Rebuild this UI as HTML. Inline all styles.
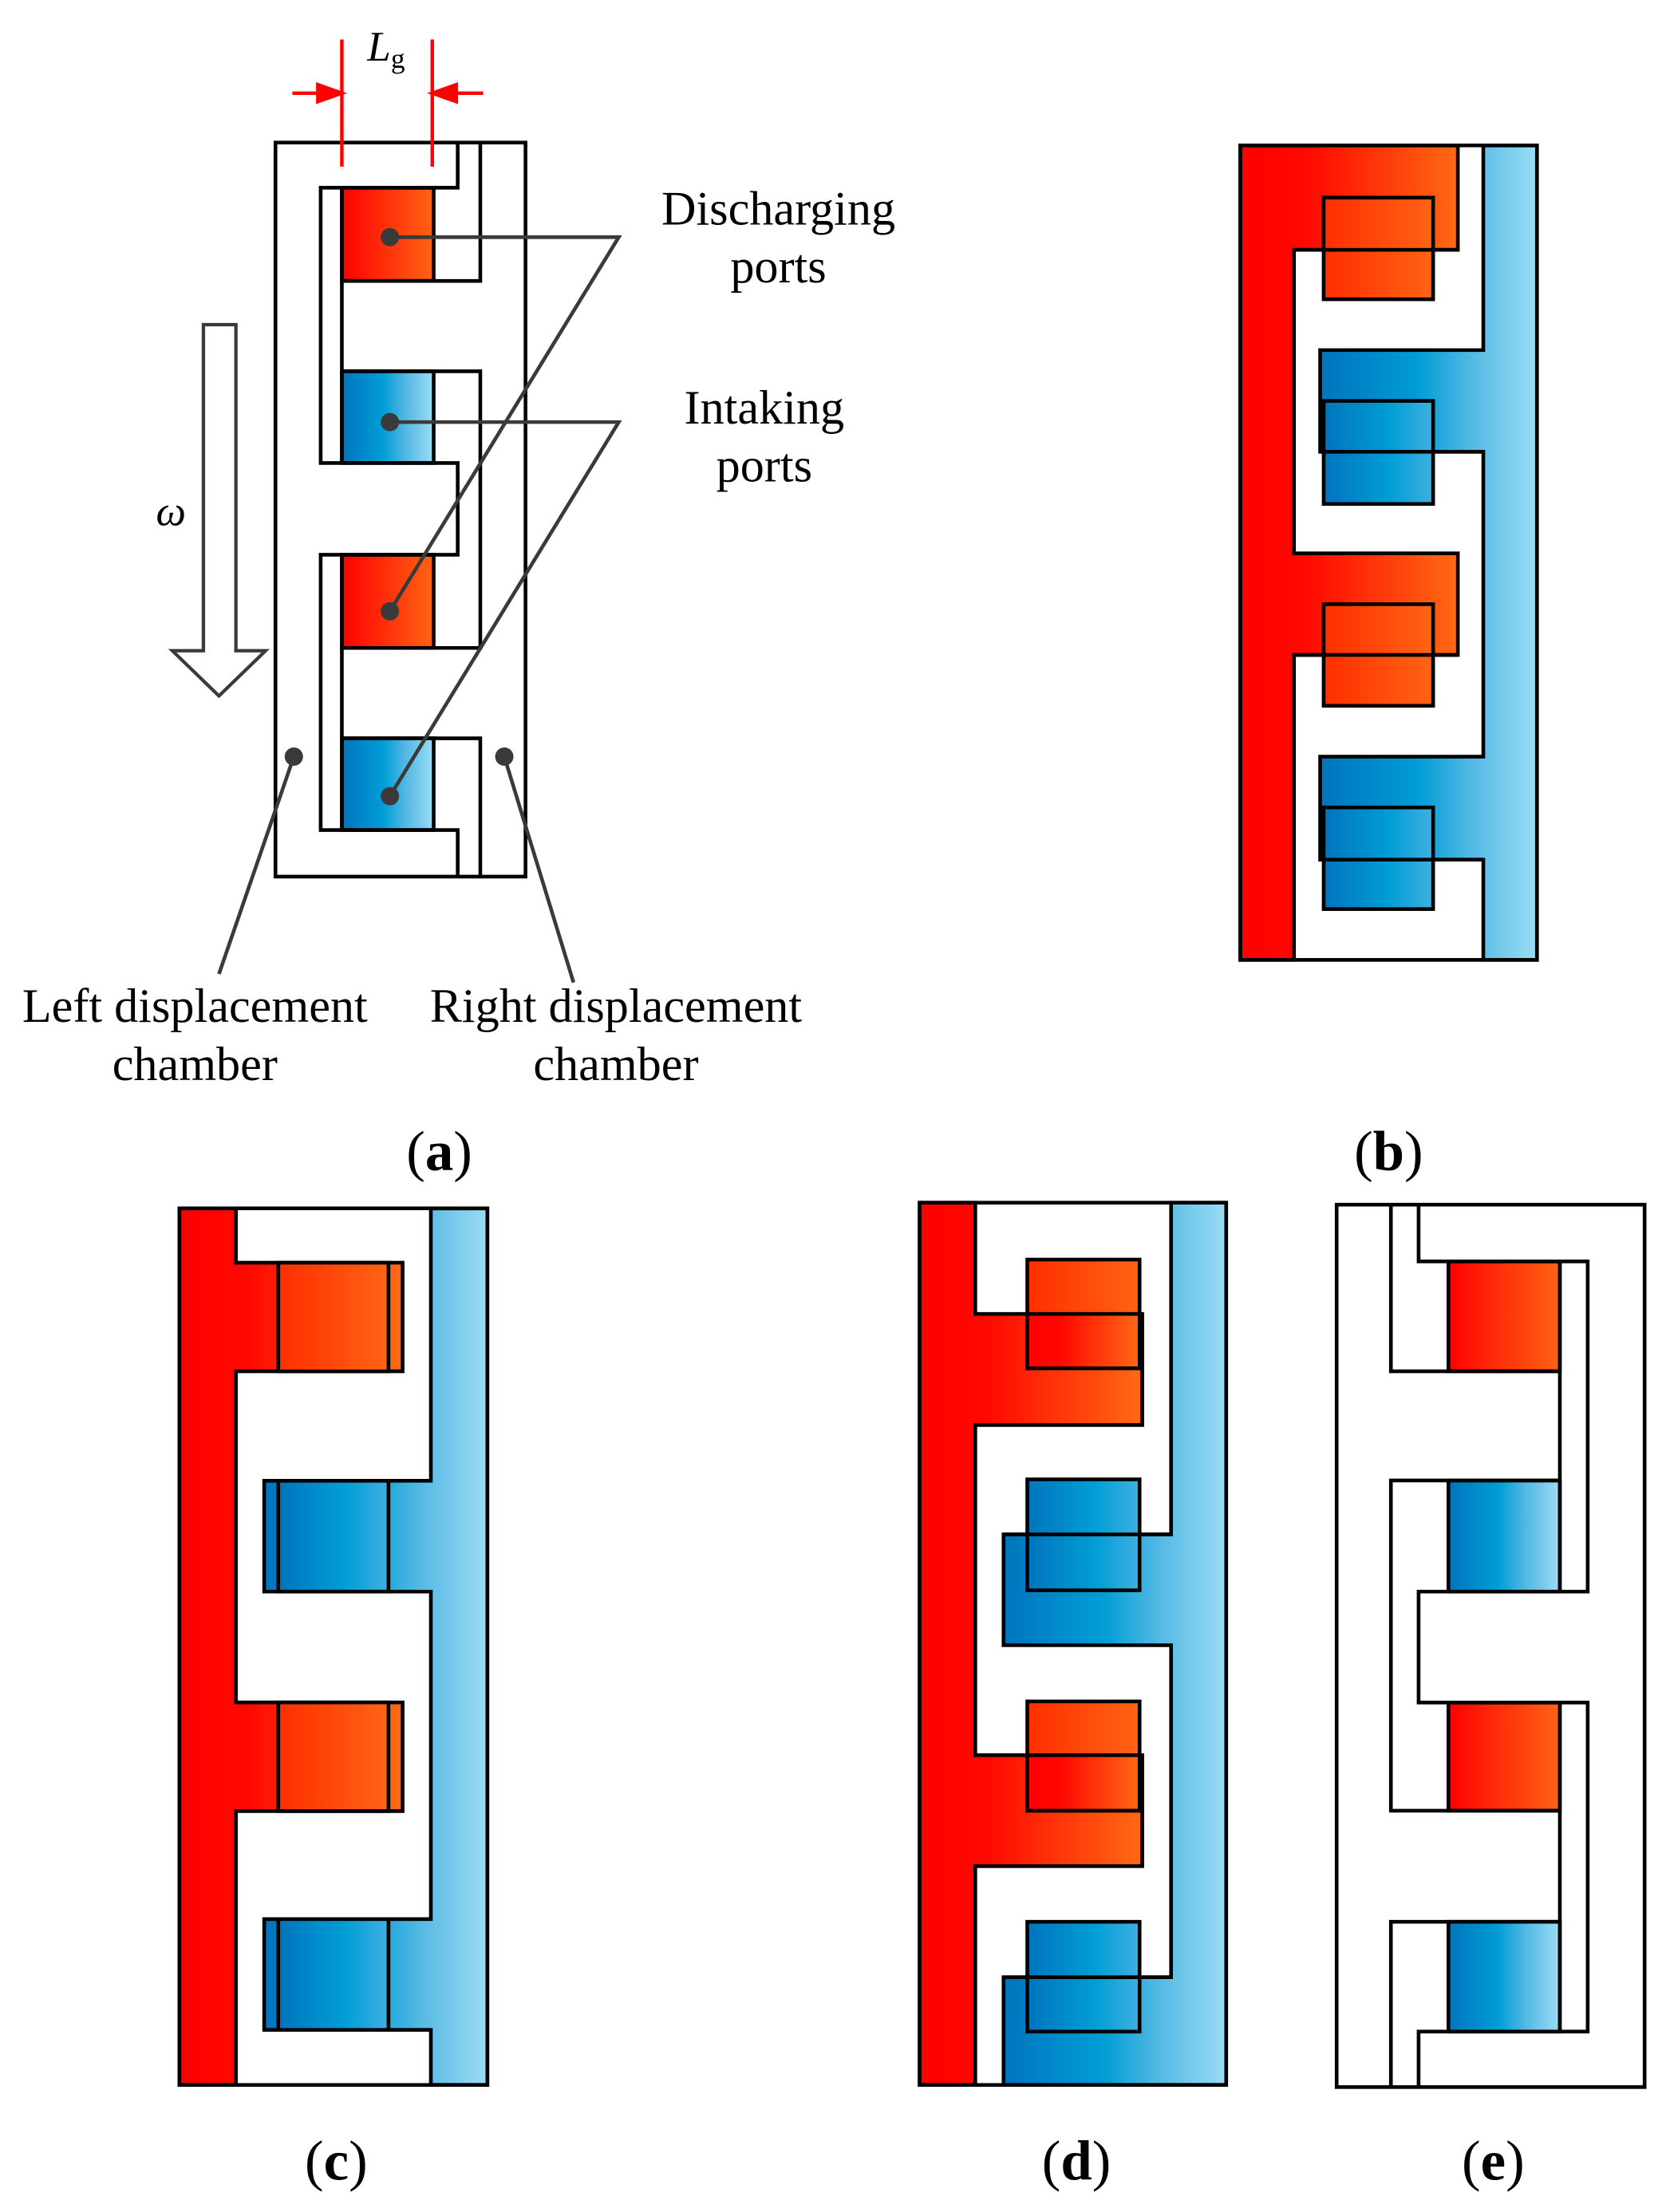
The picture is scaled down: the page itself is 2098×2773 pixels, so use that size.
<!DOCTYPE html>
<html><head><meta charset="utf-8"><style>html,body{margin:0;padding:0;background:#fff}svg{display:block}</style></head>
<body>
<svg xmlns="http://www.w3.org/2000/svg" width="2098" height="2773" viewBox="0 0 1185 1567" preserveAspectRatio="none" font-family="Liberation Serif, serif">
<defs>
<linearGradient id="rg" x1="0" y1="0" x2="1" y2="0"><stop offset="0" stop-color="#ff0000"/><stop offset="1" stop-color="#ff6414"/></linearGradient>
<linearGradient id="rg2" x1="0" y1="0" x2="1" y2="0"><stop offset="0" stop-color="#ff0000"/><stop offset="0.3" stop-color="#ff0800"/><stop offset="1" stop-color="#ff6a14"/></linearGradient>
<linearGradient id="rp" x1="0" y1="0" x2="1" y2="0"><stop offset="0" stop-color="#ff2e00"/><stop offset="1" stop-color="#ff6414"/></linearGradient>
<linearGradient id="bg" x1="0" y1="0" x2="1" y2="0"><stop offset="0" stop-color="#0074bd"/><stop offset="0.45" stop-color="#009dd6"/><stop offset="0.7" stop-color="#55b9e4"/><stop offset="1" stop-color="#9bdcf5"/></linearGradient>
<linearGradient id="bp" x1="0" y1="0" x2="1" y2="0"><stop offset="0" stop-color="#0074bd"/><stop offset="0.6" stop-color="#009dd6"/><stop offset="1" stop-color="#3fb0e0"/></linearGradient>
</defs>
<g stroke="#000" stroke-width="2.6" fill="none">
<!-- (a) -->
<rect x="242" y="133" width="65" height="66" fill="url(#rg)"/>
<rect x="242" y="393" width="65" height="66" fill="url(#rg)"/>
<rect x="242" y="263" width="65" height="65" fill="url(#bg)"/>
<rect x="242" y="523" width="65" height="65" fill="url(#bg)"/>
<rect x="195" y="101" width="177" height="520"/>
<polyline points="324,101 324,133 227,133 227,328 324,328 324,393 227,393 227,588 324,588 324,621"/>
<polyline points="340,101 340,199 242,199"/>
<polyline points="242,263 340,263 340,459 242,459"/>
<polyline points="242,523 340,523 340,621"/>
<line x1="242" y1="133" x2="242" y2="328"/><line x1="242" y1="393" x2="242" y2="588"/>
</g>
<g stroke="#ff0000" stroke-width="2.5" fill="#ff0000">
<line x1="242" y1="28" x2="242" y2="118"/><line x1="306" y1="28" x2="306" y2="118"/>
<line x1="207" y1="66" x2="228" y2="66"/><polygon points="242,66 225,60 225,72"/>
<line x1="342" y1="66" x2="320" y2="66"/><polygon points="306,66 323,60 323,72"/>
</g>
<text x="260" y="43" font-size="30" font-style="italic">L<tspan font-size="20" font-style="normal" dy="5">g</tspan></text>
<polygon points="144,230 167,230 167,461 188,461 155,493 122,461 144,461" fill="#fff" stroke="#3a3a3a" stroke-width="2.4"/>
<text x="121" y="372" font-size="30" font-style="italic" text-anchor="middle">ω</text>
<g stroke="#3a3a3a" stroke-width="2.6" fill="none">
<polyline points="276,168 438,168 276,433"/>
<polyline points="276,299 438,299 276,564"/>
<line x1="208" y1="536" x2="155" y2="690"/>
<line x1="357" y1="536" x2="406" y2="696"/>
</g>
<g fill="#3a3a3a">
<circle cx="276" cy="168" r="6.5"/><circle cx="276" cy="433" r="6.5"/><circle cx="276" cy="299" r="6.5"/><circle cx="276" cy="564" r="6.5"/>
<circle cx="208" cy="536" r="6.5"/><circle cx="357" cy="536" r="6.5"/>
</g>
<g font-size="34" text-anchor="middle" fill="#000">
<text x="551" y="159">Discharging</text><text x="551" y="200">ports</text>
<text x="541" y="300">Intaking</text><text x="541" y="341">ports</text>
<text x="138" y="724">Left displacement</text><text x="138" y="765">chamber</text>
<text x="436" y="724">Right displacement</text><text x="436" y="765">chamber</text>
</g>
<g font-size="40" text-anchor="middle">
<text x="311" y="829">(<tspan font-weight="bold">a</tspan>)</text>
<text x="983" y="829">(<tspan font-weight="bold">b</tspan>)</text>
<text x="238" y="1544">(<tspan font-weight="bold">c</tspan>)</text>
<text x="762" y="1544">(<tspan font-weight="bold">d</tspan>)</text>
<text x="1057" y="1544">(<tspan font-weight="bold">e</tspan>)</text>
</g>
<!-- (b) -->
<g stroke="#000" stroke-width="2.6">
<polygon points="878,103 1032,103 1032,177 916,177 916,392 1032,392 1032,464 916,464 916,680 878,680" fill="url(#rg2)"/>
<polygon points="1050,103 1088,103 1088,680 1050,680 1050,609 934.5,609 934.5,536 1050,536 1050,320 934.5,320 934.5,248 1050,248" fill="url(#bg)"/>
<rect x="937" y="140" width="77.5" height="72" fill="url(#rp)"/>
<rect x="937" y="428" width="77.5" height="72" fill="url(#rp)"/>
<rect x="937" y="284" width="77.5" height="73" fill="url(#bp)"/>
<rect x="937" y="572" width="77.5" height="72" fill="url(#bp)"/>
<line x1="916" y1="177" x2="1032" y2="177"/><line x1="916" y1="464" x2="1032" y2="464"/>
<line x1="934.5" y1="320" x2="1050" y2="320"/><line x1="934.5" y1="609" x2="1050" y2="609"/>
<rect x="878" y="103" width="210" height="577" fill="none"/>
</g>
<!-- (c) -->
<g stroke="#000" stroke-width="2.6">
<polygon points="127,856 167,856 167,894.5 285,894.5 285,971.4 167,971.4 167,1206 285,1206 285,1283 167,1283 167,1477 127,1477" fill="url(#rg2)"/>
<polygon points="305,856 345,856 345,1477 305,1477 305,1438 187,1438 187,1359.5 305,1359.5 305,1127.5 187,1127.5 187,1049 305,1049" fill="url(#bg)"/>
<rect x="197" y="894.5" width="78" height="77" fill="url(#rp)"/>
<rect x="197" y="1206" width="78" height="77" fill="url(#rp)"/>
<rect x="197" y="1049" width="78" height="78.5" fill="url(#bp)"/>
<rect x="197" y="1359.5" width="78" height="78.5" fill="url(#bp)"/>
<rect x="127" y="856" width="218" height="621" fill="none"/>
</g>
<!-- (d) -->
<g stroke="#000" stroke-width="2.6">
<polygon points="651,852 690.4,852 690.4,930.8 808.6,930.8 808.6,1009.5 690.4,1009.5 690.4,1243.4 808.6,1243.4 808.6,1322 690.4,1322 690.4,1477 651,1477" fill="url(#rg2)"/>
<polygon points="829,852 868,852 868,1477 710.4,1477 710.4,1400.7 829,1400.7 829,1165.5 710.4,1165.5 710.4,1087 829,1087" fill="url(#bg)"/>
<rect x="727.2" y="892.3" width="79.5" height="77" fill="url(#rp)"/>
<rect x="727.2" y="930.8" width="79.5" height="38.5" fill="url(#rg2)"/>
<rect x="727.2" y="1205.3" width="79.5" height="77.4" fill="url(#rp)"/>
<rect x="727.2" y="1243.4" width="79.5" height="39.3" fill="url(#rg2)"/>
<rect x="727.2" y="1048" width="79.5" height="78.6" fill="url(#bp)"/>
<rect x="727.2" y="1361.4" width="79.5" height="77.8" fill="url(#bp)"/>
<line x1="710.4" y1="1087" x2="829" y2="1087"/><line x1="710.4" y1="1400.7" x2="829" y2="1400.7"/>
<line x1="808.6" y1="930.8" x2="808.6" y2="1009.5"/><line x1="808.6" y1="1243.4" x2="808.6" y2="1322"/>
<rect x="651" y="852" width="217" height="625" fill="none"/>
</g>
<!-- (e) -->
<g stroke="#000" stroke-width="2.6" fill="none">
<rect x="1025.3" y="893.6" width="78.9" height="77.8" fill="url(#rg)"/>
<rect x="1025.3" y="1206.1" width="78.9" height="76.6" fill="url(#rg)"/>
<rect x="1025.3" y="1048.8" width="78.9" height="78.7" fill="url(#bg)"/>
<rect x="1025.3" y="1361.4" width="78.9" height="77.8" fill="url(#bg)"/>
<rect x="946.2" y="853.4" width="218" height="625.1"/>
<polyline points="984.6,853.4 984.6,971.4 1104.2,971.4"/>
<polyline points="1004.2,853.4 1004.2,893.6 1123.9,893.6 1123.9,1127.5 1004.2,1127.5 1004.2,1206.1 1123.9,1206.1 1123.9,1439.2 1004.2,1439.2 1004.2,1478.5"/>
<line x1="1104.2" y1="893.6" x2="1104.2" y2="1127.5"/>
<line x1="1104.2" y1="1206.1" x2="1104.2" y2="1439.2"/>
<polyline points="1104.2,1048.8 984.6,1048.8 984.6,1282.7 1104.2,1282.7"/>
<polyline points="1104.2,1361.4 984.6,1361.4 984.6,1478.5"/>
</g>
</svg>
</body></html>
